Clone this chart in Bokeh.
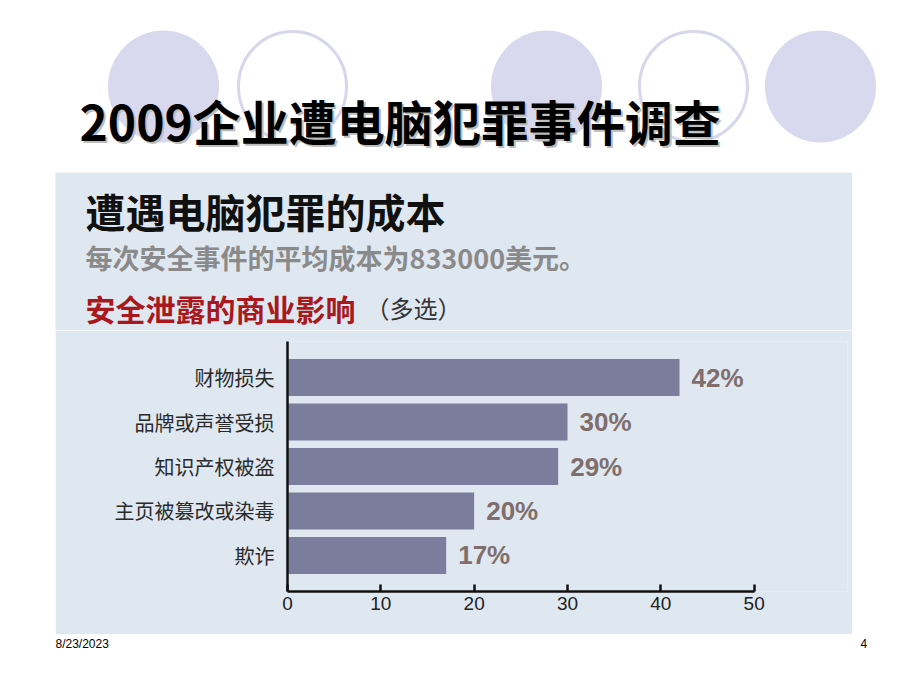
from bokeh.plotting import figure
from bokeh.models import Range1d, FactorRange, FixedTicker, Spacer
from bokeh.layouts import column, row
from bokeh.core.properties import value
from bokeh.embed import file_html
from bokeh.resources import INLINE

# ---- data ----
categories = ["财物损失", "品牌或声誉受损", "知识产权被盗", "主页被篡改或染毒", "欺诈"]
percent = [42, 30, 29, 20, 17]
x_ticks = [0, 10, 20, 30, 40, 50]
main_title = "2009企业遭电脑犯罪事件调查"
panel_title = "遭遇电脑犯罪的成本"
panel_subtitle = "每次安全事件的平均成本为833000美元。"
chart_heading = "安全泄露的商业影响"
chart_note = "（多选）"
footer_date = "8/23/2023"
footer_page = "4"

CJK = "Noto Sans CJK SC"
PANEL = "#dfe7f0"
BAR = "#7a7e9c"
LAV = "#d8d8ee"


def blank(w, h, xr, yr, bg="white"):
    p = figure(width=w, height=h, x_range=xr, y_range=yr, x_axis_type=None, y_axis_type=None,
               toolbar_location=None, output_backend="svg", min_border=0,
               background_fill_color=bg, border_fill_color=bg, outline_line_color=None)
    return p


# ---- top: decorative circles + slide title ----
top = blank(920, 172, Range1d(0, 920), Range1d(172, 0))
top.ellipse(x=[163, 546, 820], y=86, width=111, height=112, fill_color=LAV, line_color=None)
top.ellipse(x=[292, 693], y=86, width=108, height=110, fill_color=None, line_color="#d6d6ec", line_width=3)
top.text(x=[81], y=[121], text=[main_title], text_font=value(CJK), text_font_size="48px",
         text_font_style="bold", text_color="#bdbdbd", text_baseline="middle")
top.text(x=[79], y=[119], text=[main_title], text_font=value(CJK), text_font_size="48px",
         text_font_style="bold", text_color="#000000", text_baseline="middle")

# ---- panel header ----
head = blank(797, 158, Range1d(0, 797), Range1d(158, 0), bg=PANEL)
head.text(x=[30], y=[38], text=[panel_title], text_font=value(CJK), text_font_size="40px",
          text_font_style="bold", text_color="#111111", text_baseline="middle")
head.text(x=[30], y=[85], text=[panel_subtitle], text_font=value(CJK), text_font_size="27px",
          text_font_style="bold", text_color="#8a8a8a", text_baseline="middle")
head.text(x=[30], y=[135], text=[chart_heading], text_font=value(CJK), text_font_size="30px",
          text_font_style="bold", text_color="#a8181d", text_baseline="middle")
head.text(x=[310], y=[135], text=[chart_note], text_font=value(CJK), text_font_size="24px",
          text_color="#333333", text_baseline="middle")

# ---- bar chart ----
yr = FactorRange(factors=categories[::-1], range_padding=0.31, range_padding_units="absolute")
chart = figure(width=797, height=304, x_range=Range1d(0, 60), y_range=yr,
               toolbar_location=None, output_backend="svg",
               min_border_left=232, min_border_right=5, min_border_top=11, min_border_bottom=43,
               background_fill_color=PANEL, border_fill_color=PANEL, outline_line_color=None)
chart.hbar(y=categories, left=0, right=percent, height=0.83, fill_color=BAR, line_color=None)
chart.text(x=percent, y=categories, text=[f"{v}%" for v in percent], x_offset=12,
           text_font=value("Liberation Sans"), text_font_size="26px", text_font_style="bold",
           text_color="#7f6e6b", text_baseline="middle")
chart.xgrid.visible = False
chart.ygrid.visible = False

xa = chart.xaxis[0]
xa.bounds = (0, 50)
xa.ticker = FixedTicker(ticks=x_ticks)
xa.major_tick_in = 7
xa.major_tick_out = 0
xa.minor_tick_line_color = None
xa.axis_line_width = 2.5
xa.axis_line_color = "#111111"
xa.major_tick_line_width = 2.5
xa.major_tick_line_color = "#111111"
xa.major_label_text_font = "Liberation Sans"
xa.major_label_text_font_size = "19px"
xa.major_label_text_color = "#222222"
xa.major_label_standoff = 5

ya = chart.yaxis[0]
ya.major_tick_line_color = None
ya.minor_tick_line_color = None
ya.major_tick_in = 0
ya.major_tick_out = 0
ya.axis_line_width = 2.5
ya.axis_line_color = "#111111"
ya.major_label_text_font = CJK
ya.major_label_text_font_size = "20px"
ya.major_label_text_color = "#2a2a2a"
ya.major_label_standoff = 13

# ---- footer ----
foot = blank(920, 56, Range1d(0, 920), Range1d(56, 0))
foot.text(x=[55], y=[9], text=[footer_date], text_font=value("Liberation Sans"), text_font_size="12px",
          text_color="#000000", text_baseline="middle")
foot.text(x=[860], y=[9], text=[footer_page], text_font=value("Liberation Sans"), text_font_size="12px",
          text_color="#000000", text_baseline="middle")

layout = column(
    top,
    row(Spacer(width=55, height=158), head, Spacer(width=68, height=158), spacing=0),
    row(Spacer(width=55, height=304), chart, Spacer(width=68, height=304), spacing=0),
    foot,
    spacing=0,
)

open("out.html", "w").write(file_html(layout, INLINE))
